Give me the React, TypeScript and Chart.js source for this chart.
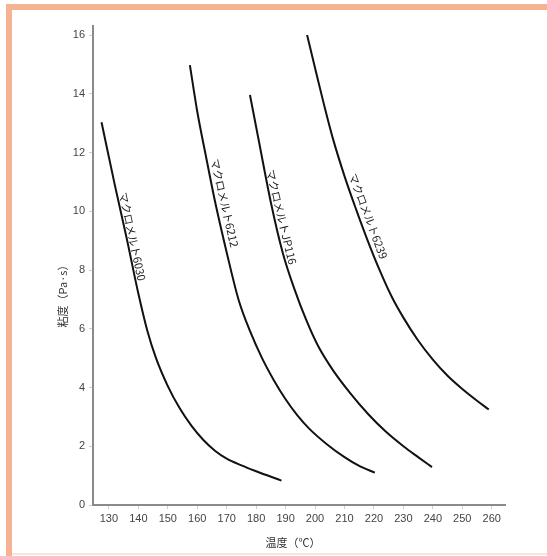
import React, { useEffect, useRef } from "react";
import { Chart, registerables } from "chart.js";

Chart.register(...registerables);

// ---- data ----
const xTickValues = [130, 140, 150, 160, 170, 180, 190, 200, 210, 220, 230, 240, 250, 260];
const yTickValues = [0, 2, 4, 6, 8, 10, 12, 14, 16];

const seriesNames = ["マクロメルト6030", "マクロメルト6212", "マクロメルトJP116", "マクロメルト6239"];

const temp6030 = [127.5, 132, 136, 140, 143, 146, 150, 154, 158, 162, 166, 170, 175, 180, 188.6];
const visc6030 = [13.03, 10.9, 9.1, 7.2, 5.95, 5.0, 4.05, 3.3, 2.7, 2.22, 1.85, 1.58, 1.35, 1.15, 0.83];

const temp6212 = [157.5, 160, 163, 166, 170, 174, 178, 182, 186, 190, 194, 198, 204, 210, 215, 220.3];
const visc6212 = [14.98, 13.4, 11.85, 10.35, 8.6, 7.0, 5.9, 5.0, 4.25, 3.6, 3.05, 2.6, 2.07, 1.63, 1.33, 1.1];

const tempJP116 = [177.9, 181, 185, 189, 193, 197, 201, 206, 212, 218, 224, 230, 235, 239.7];
const viscJP116 = [13.96, 12.35, 10.3, 8.6, 7.35, 6.3, 5.42, 4.6, 3.8, 3.1, 2.5, 2.0, 1.63, 1.29];

const temp6239 = [197.3, 200, 203, 206, 210, 214, 218, 222, 226, 230, 235, 240, 245, 250, 255, 259];
const visc6239 = [16.0, 14.88, 13.65, 12.5, 11.2, 10.05, 8.97, 7.98, 7.1, 6.38, 5.6, 4.95, 4.4, 3.95, 3.55, 3.25];

// label anchor (temperature along each curve)
const labelAnchorTemps = [136.0, 166.3, 186.3, 215.2];

const xTitle = "温度（℃）";
const yTitle = "粘度（Pa·s）";

const seriesTemps = [temp6030, temp6212, tempJP116, temp6239];
const seriesVisc = [visc6030, visc6212, viscJP116, visc6239];

// styles
const labelOffsets = [6, 9, 7, 9];
const cjkFont = '"Noto Sans CJK JP", "Noto Sans", sans-serif';
const numFont = '"Liberation Sans", Arial, sans-serif';

const labelPlugin = {
  id: "curveLabels",
  afterDraw(chart: any) {
    const ctx = chart.ctx;
    const xs = chart.scales.x;
    const ys = chart.scales.y;
    const area = chart.chartArea;
    ctx.save();
    ctx.fillStyle = "#222";
    ctx.font = `11px ${cjkFont}`;
    ctx.textAlign = "center";
    ctx.textBaseline = "middle";
    seriesNames.forEach((name, i) => {
      const tx = seriesTemps[i];
      const vy = seriesVisc[i];
      const a = labelAnchorTemps[i];
      let k = 0;
      while (k < tx.length - 2 && tx[k + 1] < a) k++;
      const t = (a - tx[k]) / (tx[k + 1] - tx[k]);
      const yv = vy[k] + t * (vy[k + 1] - vy[k]);
      const px = xs.getPixelForValue(a);
      const py = ys.getPixelForValue(yv);
      const k0 = Math.max(0, k - 1);
      const k1 = Math.min(tx.length - 1, k + 2);
      const dx = xs.getPixelForValue(tx[k1]) - xs.getPixelForValue(tx[k0]);
      const dy = ys.getPixelForValue(vy[k1]) - ys.getPixelForValue(vy[k0]);
      const ang = Math.atan2(dy, dx);
      ctx.save();
      ctx.translate(px, py);
      ctx.rotate(ang);
      ctx.fillText(name, 0, -labelOffsets[i]);
      ctx.restore();
    });
    // axis titles
    ctx.fillStyle = "#333";
    ctx.font = `11px ${cjkFont}`;
    ctx.save();
    ctx.translate(area.left - 30, (area.top + area.bottom) / 2 + 28);
    ctx.rotate(-Math.PI / 2);
    ctx.fillText(yTitle, 0, 0);
    ctx.restore();
    ctx.fillText(xTitle, (area.left + area.right) / 2 - 6, area.bottom + 38);
    ctx.restore();
  },
};

export default function App() {
  const ref = useRef<HTMLCanvasElement>(null);

  useEffect(() => {
    document.body.style.margin = "0";
    const canvas = ref.current;
    if (!canvas) return;
    const chart = new Chart(canvas, {
      type: "line",
      data: {
        datasets: seriesNames.map((name, i) => ({
          label: name,
          data: seriesTemps[i].map((x, j) => ({ x, y: seriesVisc[i][j] })),
          borderColor: "#111",
          borderWidth: 2,
          pointRadius: 0,
          fill: false,
          cubicInterpolationMode: "monotone" as const,
        })),
      },
      options: {
        responsive: false,
        animation: false,
        layout: { padding: { left: 0, top: 26, right: 42, bottom: 0 } },
        plugins: {
          legend: { display: false },
          tooltip: { enabled: false },
        },
        scales: {
          x: {
            type: "linear",
            min: 124.6,
            max: 264.5,
            afterFit: (s: any) => {
              s.height = 51;
            },
            afterBuildTicks: (s: any) => {
              s.ticks = xTickValues.map((v) => ({ value: v }));
            },
            grid: {
              display: true,
              drawOnChartArea: false,
              drawTicks: true,
              tickLength: 4,
              color: "#cfcfcf",
            },
            border: { display: true, color: "#8a8a8a", width: 2 },
            ticks: {
              autoSkip: false,
              maxRotation: 0,
              padding: 3,
              color: "#444",
              font: { family: numFont, size: 11 },
            },
          },
          y: {
            type: "linear",
            min: 0,
            max: 16.31,
            afterFit: (s: any) => {
              s.width = 93;
            },
            afterBuildTicks: (s: any) => {
              s.ticks = yTickValues.map((v) => ({ value: v }));
            },
            grid: {
              display: true,
              drawOnChartArea: false,
              drawTicks: true,
              tickLength: 4,
              color: "#cfcfcf",
            },
            border: { display: true, color: "#8a8a8a", width: 2 },
            ticks: {
              autoSkip: false,
              padding: 4,
              color: "#444",
              font: { family: numFont, size: 11 },
            },
          },
        },
      },
      plugins: [labelPlugin],
    });
    return () => chart.destroy();
  }, []);

  return (
    <div style={{ position: "relative", width: 547, height: 556, background: "#fff", overflow: "hidden" }}>
      <canvas ref={ref} width={547} height={556} style={{ position: "absolute", left: 0, top: 0, width: 547, height: 556 }} />
      <div style={{ position: "absolute", left: 6, right: 0, top: 4, height: 6, background: "#f6b394" }} />
      <div style={{ position: "absolute", left: 6, width: 6, top: 4, bottom: 0, background: "#f6b394" }} />
      <div style={{ position: "absolute", left: 12, right: 0, top: 553, height: 2, background: "#fbe4da" }} />
    </div>
  );
}
